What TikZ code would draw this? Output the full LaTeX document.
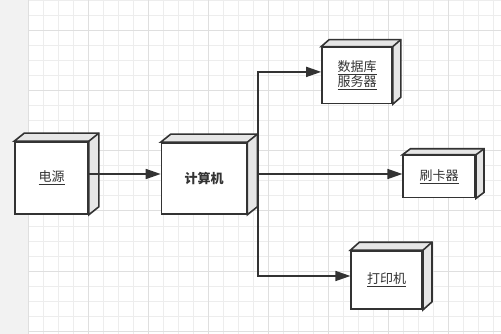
\documentclass[tikz,border=0pt]{standalone}
\usepackage{fontspec}
\usepackage{tikz}
\usetikzlibrary{positioning,arrows.meta}
\newfontfamily\cjk{Noto Sans CJK SC}
\definecolor{ink}{HTML}{333333}
\definecolor{sideface}{HTML}{E6E6E6}
\definecolor{gridminor}{HTML}{EDEDED}
\definecolor{gridmajor}{HTML}{DFDFDF}
\definecolor{strip}{HTML}{F2F2F2}

\begin{document}
\begin{tikzpicture}[x=1pt,y=-1pt,>={Triangle[length=15pt,width=10pt]},
    box/.style={draw=ink,line width=1.6pt,fill=white,inner sep=0pt,
      font=\cjk\fontsize{13}{15}\selectfont,text=ink,align=center},
    side/.style={draw=ink,line width=1.6pt,fill=sideface,line join=miter},
    flow/.style={->,draw=ink,line width=1.6pt}]
    \useasboundingbox (0,0) rectangle (501,334);
    % canvas
    \fill[white] (0,0) rectangle (501,334);
    \fill[strip] (0,0) rectangle (28,334);
    \foreach \x in {28,43,...,500} \draw[gridminor,line width=1pt] (\x,0) -- (\x,334);
    \foreach \y in {1,16,...,334} \draw[gridminor,line width=1pt] (28,\y) -- (501,\y);
    \foreach \x in {28,88,...,500} \draw[gridmajor,line width=1pt] (\x,0) -- (\x,334);
    \foreach \y in {31,91,...,334} \draw[gridmajor,line width=1pt] (28,\y) -- (501,\y);
    % nodes
    \node[box,minimum width=73pt,minimum height=72pt] (power) at (51.5,178) {\underline{电源}};
    \node[box,minimum width=85pt,minimum height=71pt] (pc) at (204,178.5) {\bfseries 计算机};
    \node[box,minimum width=70pt,minimum height=56pt] (db) at (357,75.4) {\underline{数据库}\\\underline{服务器}};
    \node[box,minimum width=72pt,minimum height=42pt] (card) at (439.2,176.6) {\underline{刷卡器}};
    \node[box,minimum width=71pt,minimum height=58pt] (printer) at (386.7,280) {\underline{打印机}};
    % depth faces
    \foreach \n/\dx/\dy in {power/10/8,pc/10/8,db/8/7,card/8/6,printer/9/8} {
      \draw[side] (\n.north west) -- ++(\dx,-\dy) -| ([shift={(\dx,-\dy)}]\n.south east)
        -- (\n.south east) -- (\n.north east) -- cycle;
      \draw[side] (\n.north east) -- ++(\dx,-\dy);
    }
    % connectors
    \coordinate (split) at ([xshift=10.5pt,yshift=4.5pt]pc.east);
    \draw[flow] ([yshift=4pt]power.east) -- ([yshift=4pt]power.east -| pc.west);
    \draw[flow] (split) |- ([yshift=3.5pt]db.west);
    \draw[flow] (split) -- (split -| card.west);
    \draw[flow] (split) |- ([yshift=4pt]printer.west);
  \end{tikzpicture}
\end{document}
